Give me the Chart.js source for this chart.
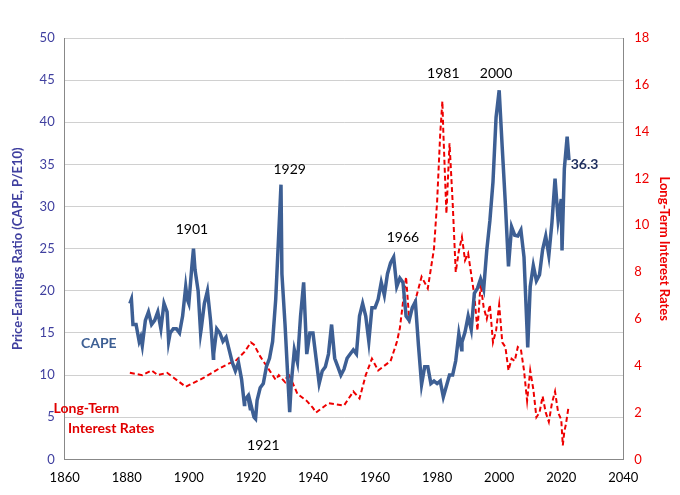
<!DOCTYPE html>
<html><head><meta charset="utf-8">
<script src="https://cdn.jsdelivr.net/npm/chart.js@4"></script>
<style>html,body{margin:0;padding:0;background:#fff}#c{width:680px;height:495px}</style>
</head><body><div id="c"><canvas id="cv"></canvas></div>
<script>
const capeYears=[1881,1881.5,1882,1883,1884,1884.5,1885,1886,1887,1888,1889,1890,1891,1892,1893,1893.5,1894,1895,1896,1897,1898,1899,1899.5,1900,1901,1901.5,1902,1903,1903.8,1904,1905,1906,1907,1907.9,1908,1909,1910,1911,1912,1913,1914,1915,1916,1917,1917.9,1918,1919,1919.8,1920,1921,1921.5,1922,1923,1924,1925,1926,1927,1928,1929,1929.7,1930,1931,1932,1932.5,1933,1934,1935,1936,1937,1938,1939,1940,1941,1942,1943,1944,1945,1946,1947,1948,1949,1950,1951,1952,1953,1954,1955,1956,1957,1958,1959,1960,1961,1962,1963,1964,1965,1966,1967,1968,1969,1970,1971,1972,1973,1974,1975,1976,1977,1978,1979,1980,1981,1982,1983,1984,1985,1986,1987,1987.9,1988,1989,1990,1991,1992,1993,1994,1995,1996,1997,1998,1999,2000,2001,2002,2003,2004,2005,2006,2007,2008,2009,2009.2,2010,2011,2012,2013,2014,2015,2016,2017,2018,2019,2020,2020.25,2021,2021.9,2022.5];
const capeVals=[18.5,19,16,16,14,14.5,13.5,16.5,17.5,16,16.5,17.5,15.5,18.5,17.5,14,15,15.5,15.5,15,17,20.5,19,18.5,23,25,22.5,20,15,15.5,18.5,20,16.5,12,12.5,15.5,15,14,14.5,13,11.5,10.5,11.5,9.5,6.5,7,7.5,6,6.5,5,4.8,7,8.5,9,11,12,14,19,27,32.6,22,16,9,5.6,9,13,11.5,17,21,12.5,15,15,12,9,10.5,11,12.5,16,12,11,10,10.7,12,12.5,13,12.5,17,18.5,17,14,18,18,19,21,19.5,22,23.3,24,20.5,21.5,21,17,16.5,18,18.7,13.5,8.9,11,11,9,9.3,9,9.3,7.4,8.7,10,10,11.7,14.9,13,13.9,15.1,17,15.4,19.7,20.3,21.4,20.2,24.8,28.3,32.9,40.6,43.8,36.9,30.3,22.9,27.6,26.6,26.5,27.2,24,15.2,13.3,20.5,23,21.2,21.9,24.9,26.5,24.2,28.1,33.3,28.4,30.9,24.8,34.5,38.3,35.5];
const rateYears=[1881,1885,1888,1890,1893,1895,1899,1902,1905,1910,1913,1915,1918,1920,1921,1923,1925,1928,1929,1931,1932,1935,1938,1940,1941,1945,1950,1953,1955,1957,1959,1961,1965,1967,1968,1970,1971,1973,1975,1977,1979,1980,1981,1981.7,1982,1983,1984,1985,1986,1987,1988,1989,1990,1992,1993,1994,1995,1996,1997,1998,1999,2000,2001,2002,2003,2004,2005,2006,2007,2008,2009,2010,2011,2012,2013,2014,2015,2016,2017,2018,2019,2020,2020.5,2021,2021.5,2022.3];
const rateVals=[3.7,3.6,3.8,3.6,3.7,3.5,3.1,3.3,3.5,3.9,4.1,4.2,4.6,5.0,4.9,4.4,4.0,3.4,3.6,3.3,3.7,2.8,2.5,2.2,2.0,2.4,2.3,2.9,2.6,3.6,4.3,3.8,4.2,5.0,5.6,7.8,6.0,6.8,7.8,7.3,9.0,11,13.9,15.3,14,10.5,13.5,11,8.0,8.9,9.5,8.5,8.8,7.0,5.5,7.5,6.5,6.0,6.6,5.0,5.5,6.6,5.0,4.8,3.8,4.3,4.2,4.8,4.7,3.8,2.5,3.8,3.0,1.8,2.0,2.7,2.0,1.6,2.4,2.9,2.0,1.7,0.6,1.2,1.5,2.2];
const xTicks=[1860,1880,1900,1920,1940,1960,1980,2000,2020,2040];
const labels=[{t:'1901',x:1901,y:27.3,c:'#000',b:false},{t:'1929',x:1932.5,y:34.4,c:'#000',b:false},{t:'1921',x:1924,y:1.7,c:'#000',b:false},{t:'1966',x:1969,y:26.3,c:'#000',b:false},{t:'1981',x:1982,y:45.8,c:'#000',b:false},{t:'2000',x:1999,y:45.8,c:'#000',b:false},{t:'36.3',x:2027.5,y:35.0,c:'#1f2f5f',b:true},{t:'CAPE',x:1871,y:13.8,c:'#3d5f94',b:true},{t:'Long-Term',x:1867,y:6.0,c:'#e00000',b:true},{t:'Interest Rates',x:1875,y:3.7,c:'#e00000',b:true}];
const F='Lato, "Open Sans", sans-serif';
const textPlugin={id:'txt',afterDatasetsDraw(ch){const ctx=ch.ctx,xs=ch.scales.x,ys=ch.scales.y;ctx.save();ctx.textAlign='center';ctx.textBaseline='middle';
labels.forEach(l=>{ctx.font=(l.b?'bold ':'')+'14px '+F;ctx.fillStyle=l.c;ctx.fillText(l.t,xs.getPixelForValue(l.x),ys.getPixelForValue(l.y));});ctx.restore();}};
new Chart(document.getElementById('cv'),{type:'scatter',
data:{datasets:[
{label:'CAPE',data:capeYears.map((x,i)=>({x,y:capeVals[i]})),showLine:true,borderColor:'#3d5f94',borderWidth:3.5,pointRadius:0,yAxisID:'y',tension:0},
{label:'Rates',data:rateYears.map((x,i)=>({x,y:rateVals[i]})),showLine:true,borderColor:'#ee0000',borderWidth:2,borderDash:[5,3],pointRadius:0,yAxisID:'y2',tension:0}]},
options:{responsive:true,maintainAspectRatio:false,animation:false,layout:{padding:{top:38,right:4,bottom:6,left:6}},
plugins:{legend:{display:false},tooltip:{enabled:false}},
scales:{x:{type:'linear',min:1860,max:2040,afterBuildTicks:a=>{a.ticks=xTicks.map(v=>({value:v}));},grid:{display:false},border:{color:'#888'},ticks:{color:'#000',font:{family:F,size:13},callback:v=>String(v)}},
y:{min:0,max:50,ticks:{stepSize:5,color:'#3f3f9f',font:{family:F,size:13},padding:10},grid:{color:'#d0d0d0',drawTicks:false},border:{color:'#888'},title:{display:true,text:'Price-Earnings Ratio (CAPE, P/E10)',color:'#3f3f9f',font:{family:F,size:13,weight:'bold'}}},
y2:{position:'right',min:0,max:18,ticks:{stepSize:2,color:'#ee0000',font:{family:F,size:13}},grid:{display:false},border:{color:'#888'},title:{display:true,text:'Long-Term Interest Rates',color:'#ee0000',font:{family:F,size:13,weight:'bold'}}}}},
plugins:[textPlugin]});
</script></body></html>
